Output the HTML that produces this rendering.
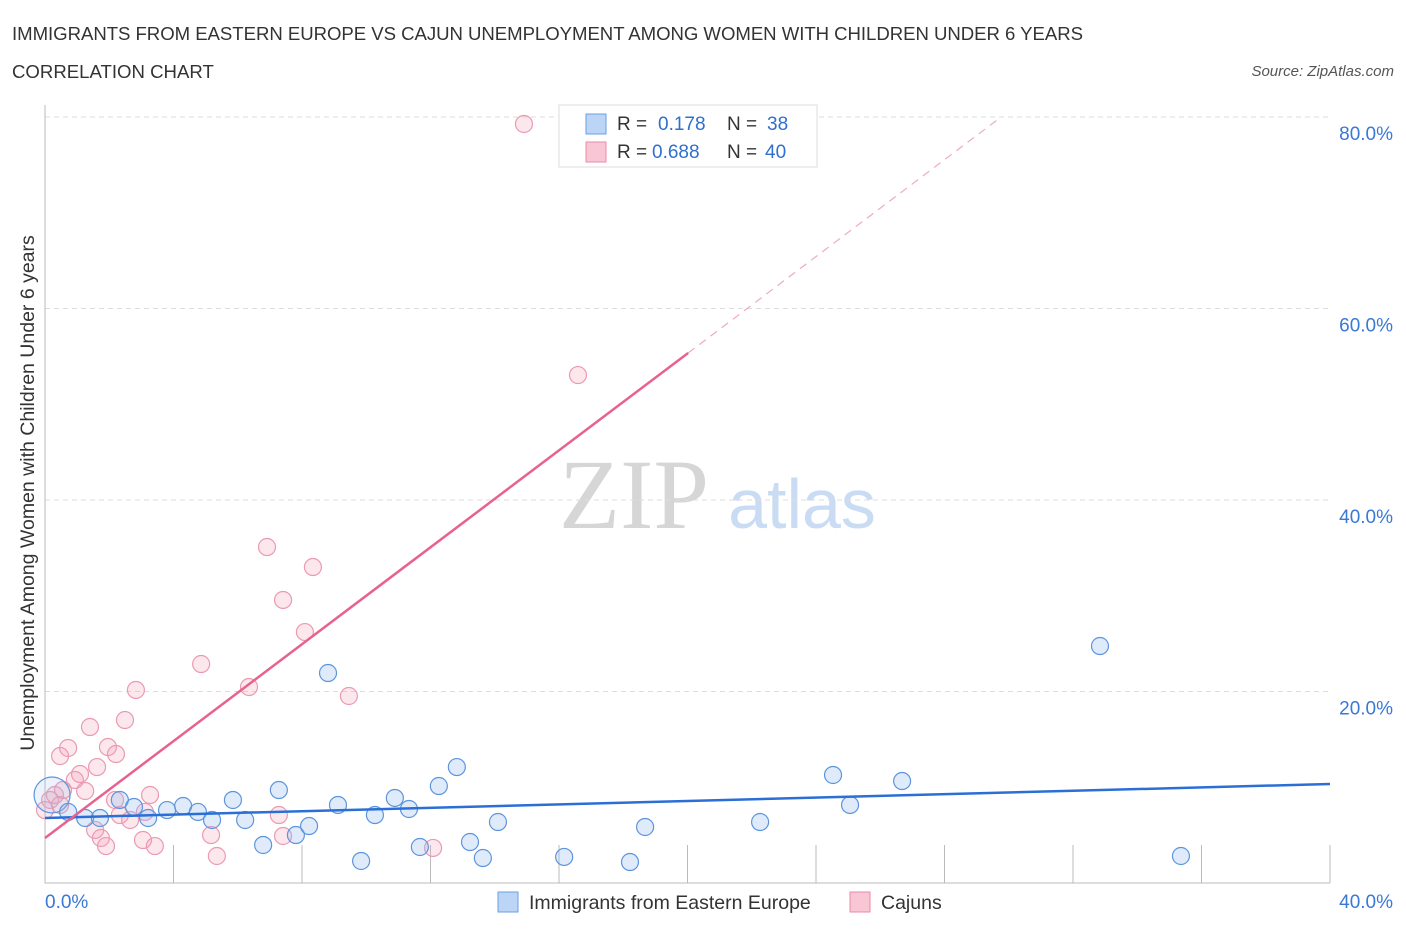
<!DOCTYPE html>
<html><head><meta charset="utf-8"><style>
body{margin:0;background:#fff;font-family:"Liberation Sans",sans-serif}
</style></head><body>
<svg id="c" width="1406" height="930" font-family="Liberation Sans, sans-serif">
<text x="12" y="40" font-size="18.6" fill="#333" textLength="1071">IMMIGRANTS FROM EASTERN EUROPE VS CAJUN UNEMPLOYMENT AMONG WOMEN WITH CHILDREN UNDER 6 YEARS</text>
<text x="12" y="78" font-size="18.6" fill="#333">CORRELATION CHART</text>
<text x="1394" y="76" font-size="15" fill="#555" font-style="italic" text-anchor="end">Source: ZipAtlas.com</text>
<g><text x="634" y="528" font-size="100" style="font-family:'Liberation Serif',serif" fill="#d6d6d6" text-anchor="middle">ZIP</text><text x="802" y="528" font-size="70" fill="#c9dcf3" text-anchor="middle">atlas</text></g>
<g id="grid"></g><g id="pts"></g><g id="lines"></g>
<text transform="translate(34,493) rotate(-90)" font-size="19.5" fill="#333" text-anchor="middle">Unemployment Among Women with Children Under 6 years</text>
<g>
<rect x="559" y="105" width="258" height="62" fill="#fff" stroke="#ddd"/>
<rect x="586" y="114" width="20" height="20" fill="#bcd5f7" stroke="#6a9fe0"/>
<rect x="586" y="142" width="20" height="20" fill="#f8c6d5" stroke="#e88aa8"/>
<text y="130" font-size="19" fill="#333"><tspan x="617">R =</tspan><tspan x="658" fill="#2f6fd1">0.178</tspan><tspan x="727">N =</tspan><tspan x="767" fill="#2f6fd1">38</tspan></text>
<text y="158" font-size="19" fill="#333"><tspan x="617">R =</tspan><tspan x="652" fill="#2f6fd1">0.688</tspan><tspan x="727">N =</tspan><tspan x="765" fill="#2f6fd1">40</tspan></text>
</g>
<g>
<rect x="498" y="892" width="20" height="20" fill="#bcd5f7" stroke="#6a9fe0"/>
<text x="529" y="909" font-size="19.5" fill="#333">Immigrants from Eastern Europe</text>
<rect x="850" y="892" width="20" height="20" fill="#f8c6d5" stroke="#e88aa8"/>
<text x="881" y="909" font-size="19.5" fill="#333">Cajuns</text>
</g>
</svg>
<script>
const xTicks=[0,40];
const yTicks=[20,40,60,80];
const blueX=[0.22,0.72,1.25,1.71,2.33,2.77,3.21,3.80,4.30,4.76,5.20,5.85,6.23,6.79,7.28,7.81,8.22,8.81,9.12,9.84,10.27,10.89,11.33,11.67,12.26,12.82,13.23,13.63,14.10,16.16,18.21,18.68,22.26,24.53,25.06,26.68,32.84,35.36];
const blueY=[9.19,7.42,6.79,6.79,8.67,7.94,6.79,7.62,8.04,7.42,6.58,8.67,6.58,3.97,9.71,5.01,5.95,21.93,8.15,2.30,7.10,8.88,7.73,3.76,10.13,12.11,4.28,2.61,6.37,2.72,2.19,5.85,6.37,11.28,8.15,10.65,24.75,2.82];
const pinkX=[0.16,0.31,0.47,0.47,0.72,0.93,1.09,1.25,1.40,1.62,1.56,1.74,1.90,1.96,2.21,2.18,2.49,2.33,2.65,2.83,3.05,3.11,3.27,3.42,4.86,5.17,5.35,6.35,6.91,7.28,7.41,7.41,8.09,8.34,9.46,12.08,14.91,16.59,0.0,0.56];
const pinkY=[8.67,9.19,8.15,13.26,14.10,10.76,11.38,9.61,16.29,12.11,5.54,4.70,3.86,14.20,13.47,8.67,17.02,7.10,6.58,20.16,4.49,7.42,9.19,3.86,22.87,5.01,2.82,20.47,35.09,7.10,29.56,4.91,26.21,33.00,19.53,3.66,79.27,53.05,7.62,9.71];
const blueTrend=[6.79,10.34];
const pinkTrend=[4.70,2.53];
const X=v=>45+v*32.125, Y=v=>883-v*9.575;
const NS='http://www.w3.org/2000/svg';
function mk(t,a,p){const e=document.createElementNS(NS,t);for(const k in a)e.setAttribute(k,a[k]);p.appendChild(e);return e;}
const g=document.getElementById('grid');
yTicks.forEach(v=>{const l=mk('line',{x1:45,x2:1330,y1:Y(v),y2:Y(v),stroke:'#ddd','stroke-dasharray':'5,4'},g);


const t=mk('text',{x:1393,y:Y(v)+23,'font-size':19,fill:'#3a78d6','text-anchor':'end'},g);t.textContent=v.toFixed(1)+'%';

});
const ax=mk('path',{d:'M45,105V883H1330',fill:'none',stroke:'#bbb'},g);


for(let i=1;i<=10;i++){const tk=mk('line',{x1:X(i*4),x2:X(i*4),y1:845,y2:883,stroke:'#bbb'},g);

}
xTicks.forEach((v,i)=>{const t=mk('text',{x:i?1393:45,y:908,'font-size':19,fill:'#3a78d6','text-anchor':i?'end':'start'},g);t.textContent=v.toFixed(1)+'%';

});
const p=document.getElementById('pts');
pinkX.forEach((x,i)=>{const c=mk('circle',{cx:X(x),cy:Y(pinkY[i]),r:8.5,fill:'rgba(244,160,185,0.25)',stroke:'#eb9ab3','stroke-width':1.2},p);

});
blueX.forEach((x,i)=>{const c=mk('circle',{cx:X(x),cy:Y(blueY[i]),r:i==0?18:8.5,fill:i==0?'rgba(150,190,240,0.18)':'rgba(150,190,240,0.3)',stroke:'#5d95dd','stroke-width':1.2},p);

});
const L=document.getElementById('lines');
const bl=mk('line',{x1:X(0),y1:Y(blueTrend[0]),x2:X(40),y2:Y(blueTrend[1]),stroke:'#2b6fd6','stroke-width':2.5},L);


const xe=20.02,xd=(80-pinkTrend[0])/pinkTrend[1];
const pl=mk('line',{x1:X(0),y1:Y(pinkTrend[0]),x2:X(xe),y2:Y(pinkTrend[0]+pinkTrend[1]*xe),stroke:'#e8628e','stroke-width':2.5},L);


const pd=mk('line',{x1:X(xe),y1:Y(pinkTrend[0]+pinkTrend[1]*xe),x2:X(xd),y2:Y(80),stroke:'#eeaabf','stroke-width':1.2,'stroke-dasharray':'8,6'},L);


</script>
</body></html>
